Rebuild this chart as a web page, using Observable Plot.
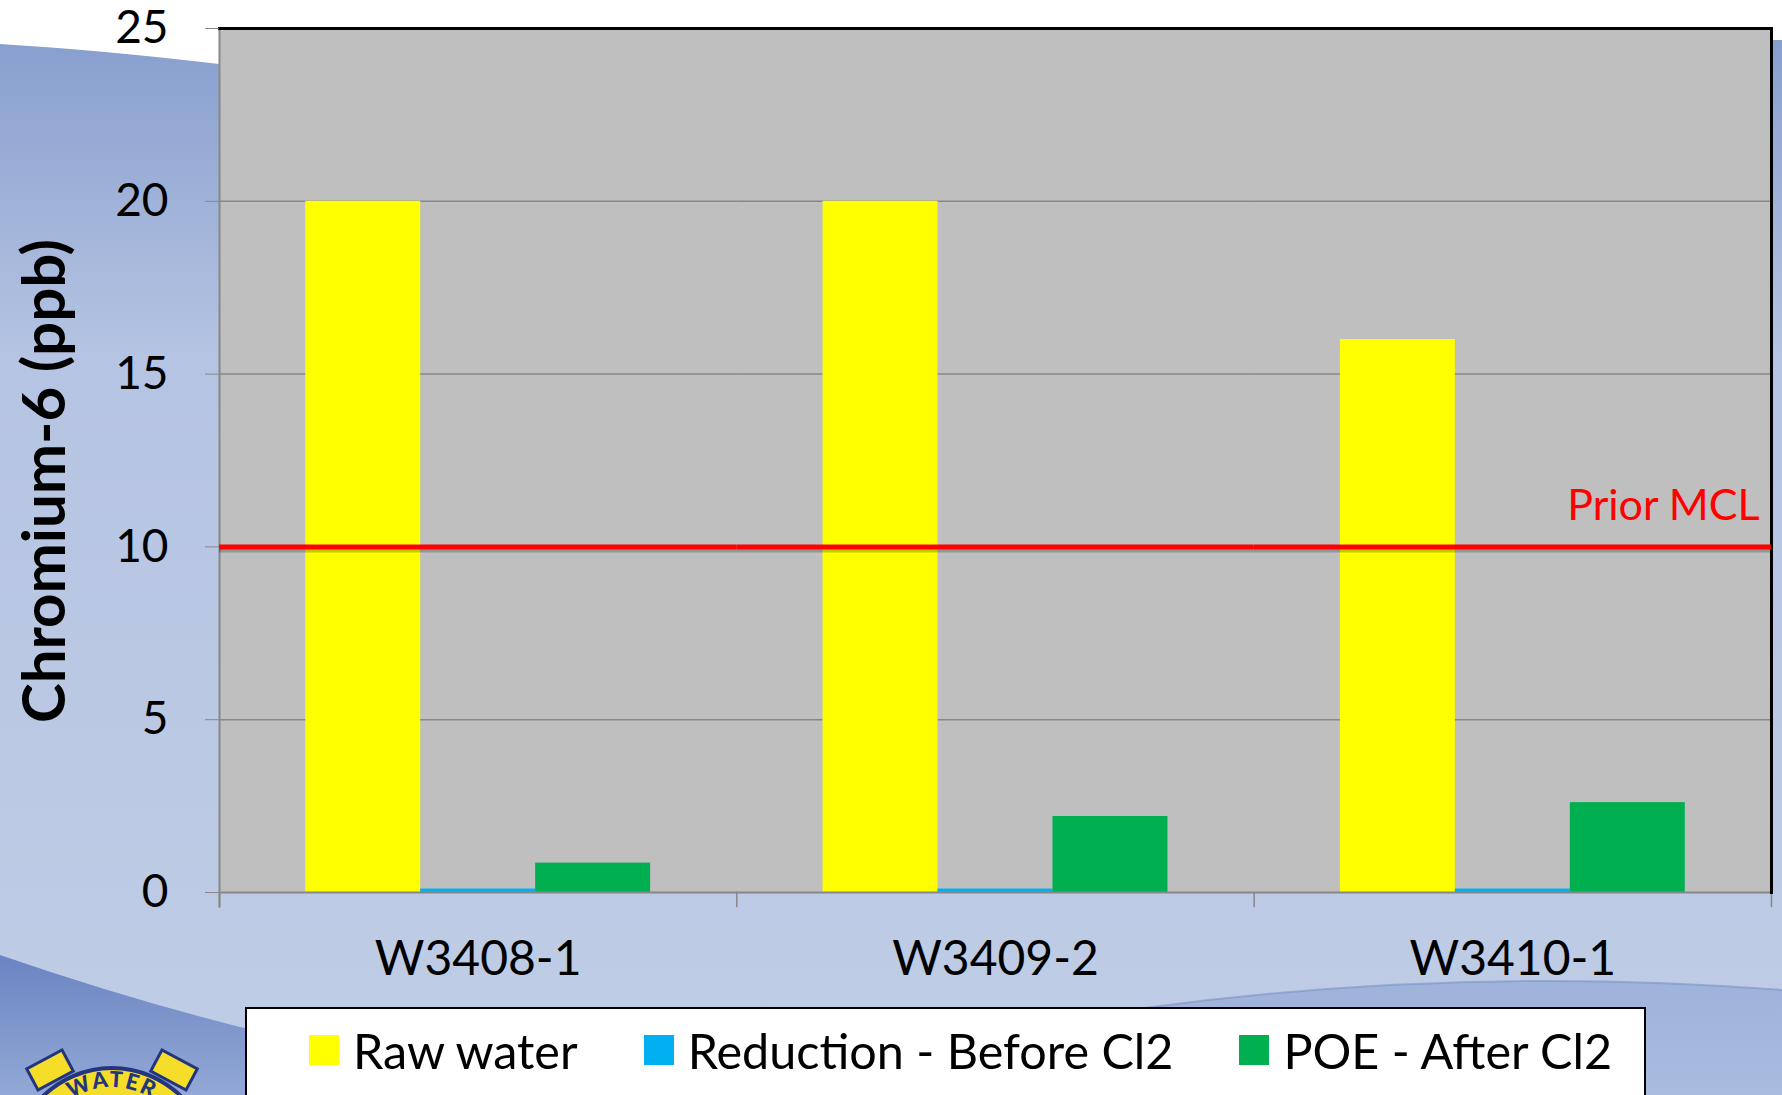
<!DOCTYPE html>
<html>
<head>
<meta charset="utf-8">
<script src="https://cdn.jsdelivr.net/npm/d3@7"></script>
<script src="https://cdn.jsdelivr.net/npm/@observablehq/plot@0.6"></script>
<style>
  html, body { margin: 0; padding: 0; overflow: hidden; background: #fff; }
  #slide { position: relative; width: 1782px; height: 1095px; overflow: hidden; font-family: Lato, "Open Sans", sans-serif; }
  #bg { position: absolute; left: 0; top: 0; }
  #chart { position: absolute; left: 0; top: 0; }
  #ytitle { position: absolute; left: 42px; top: 481px; transform: translate(-50%, -50%) rotate(-90deg);
            font-size: 60px; font-weight: bold; line-height: 1; white-space: nowrap; color: #000; }
  #legend { position: absolute; left: 245px; top: 1007px; width: 1401px; height: 120px; background: #fff;
            border: 2px solid #000; box-sizing: border-box; display: flex; align-items: flex-start;
            padding-left: 62px; padding-top: 13px; }
  .item { display: flex; align-items: center; margin-right: 66px; font-size: 48.5px; line-height: 56px; color: #000; white-space: nowrap; }
  .sw { width: 30px; height: 30px; margin-right: 14px; }
</style>
</head>
<body>
<div id="slide">
  <svg id="bg" width="1782" height="1095" viewBox="0 0 1782 1095">
    <defs>
      <linearGradient id="gTop" x1="0" y1="0" x2="0" y2="1">
        <stop offset="0" stop-color="#889fce"/>
        <stop offset="0.3" stop-color="#b5c4e2"/>
        <stop offset="1" stop-color="#c0cde6"/>
      </linearGradient>
      <linearGradient id="gBL" x1="0" y1="0" x2="0" y2="1">
        <stop offset="0" stop-color="#6a85c2"/>
        <stop offset="1" stop-color="#93a8d6"/>
      </linearGradient>
      <linearGradient id="gBR" x1="0" y1="0" x2="0" y2="1">
        <stop offset="0" stop-color="#9fb2da"/>
        <stop offset="1" stop-color="#a9bbdf"/>
      </linearGradient>
      <path id="arcW" d="M 42 1122 Q 112 1052 182 1122"/>
    </defs>
    <rect x="0" y="40" width="1782" height="1055" fill="url(#gTop)"/>
    <path d="M0,0 H1782 V8 Q1760,14 1745,30 Q1000,95 219,64 Q100,50 0,44 Z" fill="#ffffff"/>
    <path d="M0,955 Q130,1000 260,1032 Q500,1085 700,1095 L0,1095 Z" fill="url(#gBL)"/>
    <path d="M1136,1009 Q1460,965 1782,990 L1782,1095 L1136,1095 Z" fill="url(#gBR)"/>
    <path d="M1136,1009 Q1460,965 1782,990" fill="none" stroke="#7d93c8" stroke-width="2" opacity="0.6"/>
    <g>
      <rect x="30" y="1058" width="40" height="24" fill="#f5dd2a" stroke="#23357e" stroke-width="3" transform="rotate(-28 50 1070)"/>
      <rect x="154" y="1058" width="40" height="24" fill="#f5dd2a" stroke="#23357e" stroke-width="3" transform="rotate(28 174 1070)"/>
      <ellipse cx="112" cy="1180" rx="104" ry="112" fill="#f5dd2a" stroke="#23357e" stroke-width="4"/>
      <text font-family="Lato, sans-serif" font-weight="900" font-size="22" fill="#23357e" letter-spacing="2">
        <textPath href="#arcW" startOffset="50%" text-anchor="middle">WATER</textPath>
      </text>
    </g>
  </svg>
  <div id="chart"></div>
  <div id="ytitle"></div>
  <div id="legend"></div>
</div>
<script>
// ---- data ----
const categories = ["W3408-1", "W3409-2", "W3410-1"];
const series = ["Raw water", "Reduction - Before Cl2", "POE - After Cl2"];
const rawWater = [20, 20, 16];
const reductionBeforeCl2 = [0.1, 0.1, 0.1];
const poeAfterCl2 = [0.85, 2.2, 2.6];
const seriesColors = ["#ffff00", "#00b0f0", "#00b050"];
const yTicks = [0, 5, 10, 15, 20, 25];
const priorMcl = 10;
const priorMclLabel = "Prior MCL";
const yTitle = "Chromium-6 (ppb)";

// ---- build table ----
const seriesValues = [rawWater, reductionBeforeCl2, poeAfterCl2];
const rows = [];
categories.forEach((c, i) => {
  series.forEach((s, j) => rows.push({category: c, series: s, value: seriesValues[j][i]}));
});
const gridTicks = yTicks.filter(v => v > 0);
const lastCategory = categories[categories.length - 1];

const W = 1782, H = 1000, mTop = 28, mBottom = 108, mLeft = 219, mRight = 11;
const plotH = H - mTop - mBottom;
const axisGray = "#878787";

const chart = Plot.plot({
  width: W, height: H,
  marginLeft: mLeft, marginRight: mRight, marginTop: mTop, marginBottom: mBottom,
  style: {background: "transparent", fontFamily: "Lato, 'Open Sans', sans-serif", color: "#000", overflow: "visible"},
  fx: {domain: categories, padding: 0, round: false},
  x: {domain: series, paddingInner: 0, paddingOuter: 0.75, round: false, axis: null},
  y: {domain: [yTicks[0], yTicks[yTicks.length - 1]]},
  color: {domain: series, range: seriesColors},
  marks: [
    Plot.frame({fill: "#bfbfbf", facet: "super"}),
    Plot.ruleY(gridTicks, {stroke: axisGray, strokeWidth: 1.5}),
    Plot.barY(rows, {fx: "category", x: "series", y: "value", fill: "series"}),
    Plot.ruleY([0], {stroke: axisGray, strokeWidth: 2}),
    Plot.frame({anchor: "left", stroke: axisGray, strokeWidth: 2, insetBottom: -14, facet: "super"}),
    Plot.frame({anchor: "left", stroke: axisGray, strokeWidth: 1.5, insetTop: plotH, insetBottom: -14}),
    Plot.frame({anchor: "right", stroke: axisGray, strokeWidth: 1.5, insetTop: plotH, insetBottom: -14, facet: "super"}),
    Plot.frame({anchor: "top", stroke: "#000", strokeWidth: 3, facet: "super"}),
    Plot.frame({anchor: "right", stroke: "#000", strokeWidth: 3, facet: "super"}),
    Plot.ruleY([priorMcl], {stroke: "#000", strokeOpacity: 0.22, strokeWidth: 5, dy: 3}),
    Plot.ruleY([priorMcl], {stroke: "#ff0000", strokeWidth: 5}),
    Plot.text([{label: priorMclLabel, value: priorMcl, category: lastCategory}], {
      fx: "category", y: "value", text: "label", frameAnchor: "right", textAnchor: "end", lineAnchor: "bottom",
      dx: -12, dy: -27, fill: "#ff0000", fontSize: 43
    }),
    Plot.axisY(yTicks, {tickSize: 14, tickPadding: 37, fontSize: 46, stroke: axisGray, label: null}),
    Plot.axisFx({anchor: "bottom", tickSize: 0, tickPadding: 48, fontSize: 48, label: null})
  ]
});
document.getElementById("chart").appendChild(chart);
document.getElementById("ytitle").textContent = yTitle;

// ---- legend ----
const legend = document.getElementById("legend");
series.forEach((s, j) => {
  const item = document.createElement("div");
  item.className = "item";
  const sw = document.createElement("div");
  sw.className = "sw";
  sw.style.background = seriesColors[j];
  const t = document.createElement("span");
  t.textContent = s;
  item.appendChild(sw);
  item.appendChild(t);
  legend.appendChild(item);
});
</script>
</body>
</html>
